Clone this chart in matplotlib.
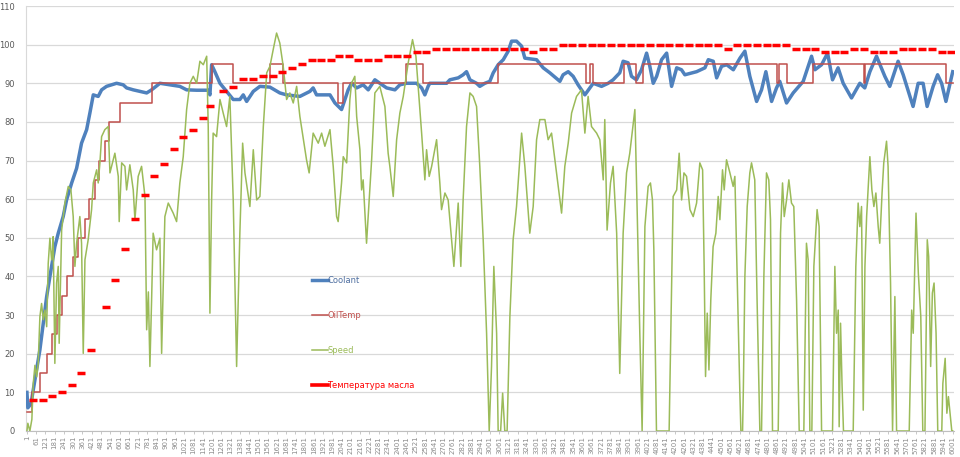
import matplotlib
matplotlib.use("Agg")
import matplotlib.pyplot as plt
from matplotlib.lines import Line2D

# ---------------- data (sample index, value) ----------------
coolant_idx = [1, 7, 27, 42, 85, 107, 129, 150, 182, 204, 236, 258, 291, 323, 355, 388, 409, 431, 463, 485,
               517, 582, 625, 647, 690, 733, 777, 809, 863, 928, 992, 1036, 1101, 1176, 1187, 1198, 1219, 1252,
               1295, 1338, 1381, 1403, 1425, 1468, 1511, 1576, 1640, 1684, 1770, 1835, 1856, 1878, 1965, 1997,
               2040, 2062, 2083, 2105, 2138, 2180, 2213, 2256, 2288, 2332, 2386, 2418, 2461, 2526, 2559, 2580,
               2601, 2612, 2721, 2742, 2796, 2828, 2850, 2872, 2915, 2936, 2969, 3001, 3023, 3055, 3088, 3120,
               3142, 3174, 3207, 3228, 3304, 3347, 3390, 3455, 3476, 3509, 3541, 3573, 3617, 3649, 3671, 3725,
               3768, 3800, 3843, 3865, 3897, 3919, 3951, 3984, 4017, 4038, 4060, 4082, 4114, 4147, 4179, 4212,
               4243, 4265, 4341, 4395, 4417, 4449, 4471, 4503, 4536, 4579, 4622, 4654, 4686, 4730, 4762, 4790,
               4827, 4859, 4880, 4924, 4967, 5032, 5086, 5108, 5151, 5190, 5222, 5258, 5291, 5345, 5399, 5431,
               5464, 5507, 5561, 5593, 5647, 5680, 5744, 5777, 5809, 5835, 5874, 5903, 5929, 5957, 6001]
coolant_val = [10, 6, 7, 10.6, 21, 28, 34.8, 40, 47.7, 51.2, 55.5, 59.8, 64.2, 68, 74.5, 78, 82.3, 87, 86.6, 88.3,
               89.2, 90, 89.6, 88.8, 88.3, 87.9, 87.5, 88.3, 90, 89.6, 89.2, 88.3, 88.2, 88.2, 87, 94.8, 93, 90,
               87.9, 85.8, 85.8, 87, 85.3, 87.9, 89.2, 89, 87.5, 87, 86.6, 87.9, 88.8, 87, 87, 84.9,
               83.2, 85.8, 88.3, 90, 88.8, 89.6, 88.3, 90.9, 90, 88.8, 88.3, 89.6, 90, 90, 88.8, 87,
               89.2, 90, 90, 90.9, 91.4, 92.2, 93, 90.9, 90, 89.2, 90, 90.5, 92.7, 94.8, 96.1, 98.3,
               100.9, 100.9, 99.6, 96.5, 96.1, 94, 92.7, 90.5, 92.2, 93, 91.8, 89.6, 87, 88.8, 90, 89.2,
               90, 90.9, 92.7, 95.7, 95.3, 91.8, 90.9, 93.5, 97.8, 94.4, 90, 91.8, 96.1, 97.8, 89.2, 94,
               93.5, 92.2, 93, 94, 96.1, 95.7, 91.4, 94.4, 94.8, 93.5, 96.5, 98.3, 91.8, 85.3, 88.3, 93,
               85.3, 88.8, 90.5, 84.9, 87.5, 90.5, 97, 93.5, 94.8, 97.8, 90.9, 94, 90, 86.2, 90, 88.8,
               93, 97, 91.8, 89.2, 95.7, 92.2, 84, 90, 90, 84, 89.2, 92.2, 90, 85.3, 93]

oil_idx = [1, 33, 85, 129, 161, 194, 226, 258, 297, 333, 377, 405, 442, 470, 507, 536, 604, 809, 1198, 1338,
           1576, 1662, 2017, 2049, 2458, 2566, 3056, 3623, 3650, 3672, 3871, 3949, 3996, 4861, 4878, 4929,
           5094, 5427, 5433, 5958, 6001]
oil_val = [5, 10, 15, 20, 25, 30, 35, 40, 45, 50, 55, 60, 65, 70, 75, 80, 85, 90, 95, 90,
           95, 90, 85, 90, 95, 90, 95, 90, 95, 90, 95, 90, 95, 90, 95, 90,
           95, 90, 95, 90, 90]

speed_idx = [1, 7, 20, 33, 42, 53, 64, 74, 85, 96, 107, 118, 129, 139, 150, 161, 168, 171, 182, 193, 204, 210,
             226, 247, 269, 286, 301, 312, 323, 344, 355, 366, 377, 398, 420, 431, 453, 463, 474, 485, 506, 528,
             539, 571, 593, 599, 615, 636, 647, 668, 690, 701, 722, 744, 766, 777, 788, 798, 809, 819, 841, 863,
             874, 895, 917, 949, 971, 992, 1014, 1036, 1057, 1079, 1101, 1122, 1144, 1166, 1176, 1187, 1198,
             1208, 1230, 1252, 1273, 1295, 1316, 1338, 1360, 1381, 1399, 1414, 1446, 1468, 1490, 1511, 1533,
             1555, 1576, 1597, 1619, 1640, 1662, 1684, 1705, 1727, 1749, 1770, 1813, 1830, 1856, 1889, 1911,
             1932, 1965, 1986, 2008, 2018, 2040, 2051, 2073, 2094, 2105, 2126, 2138, 2159, 2170, 2180, 2202,
             2235, 2256, 2288, 2321, 2342, 2353, 2375, 2397, 2418, 2440, 2472, 2500, 2522, 2559, 2580, 2591,
             2608, 2624, 2656, 2677, 2688, 2710, 2731, 2768, 2796, 2813, 2828, 2850, 2872, 2893, 2915, 2936,
             2958, 2980, 2997, 3012, 3027, 3045, 3055, 3071, 3084, 3098, 3113, 3131, 3152, 3174, 3207, 3228,
             3260, 3282, 3304, 3325, 3358, 3379, 3401, 3433, 3466, 3487, 3509, 3531, 3563, 3595, 3617, 3638,
             3660, 3693, 3714, 3736, 3746, 3761, 3783, 3800, 3823, 3843, 3865, 3887, 3908, 3941, 3957, 3973,
             3988, 4006, 4027, 4042, 4055, 4064, 4081, 4163, 4179, 4189, 4212, 4228, 4244, 4259, 4276, 4298,
             4319, 4341, 4362, 4380, 4390, 4399, 4410, 4421, 4433, 4448, 4466, 4481, 4492, 4509, 4520, 4535,
             4557, 4578, 4589, 4604, 4621, 4628, 4639, 4644, 4654, 4669, 4686, 4697, 4718, 4733, 4751, 4762,
             4777, 4794, 4809, 4820, 4833, 4870, 4885, 4898, 4909, 4924, 4939, 4956, 4971, 4989, 5006, 5036,
             5053, 5064, 5075, 5088, 5101, 5122, 5135, 5151, 5222, 5237, 5248, 5259, 5265, 5274, 5284, 5293,
             5356, 5373, 5388, 5399, 5410, 5421, 5432, 5443, 5464, 5477, 5490, 5503, 5518, 5528, 5543, 5554,
             5572, 5582, 5598, 5611, 5626, 5637, 5719, 5735, 5745, 5763, 5778, 5794, 5807, 5821, 5836, 5845,
             5858, 5869, 5880, 5893, 5904, 5930, 5937, 5952, 5963, 5973, 5995, 6001]
speed_val = [0, 2, 0, 3, 12.3, 17, 14, 17.5, 29.6, 33, 28.8, 31.3, 27, 43.4, 49.9, 44.3, 46.9, 50.3, 17.5, 38.3, 42.6, 22.7,
             52, 59, 63.3, 62.4, 55.5, 42.6, 48.6, 55.5, 48.6, 20.1, 44.3, 49.5, 57.3, 64.2, 67.6, 64.2, 69.4, 76.2, 78, 78.8,
             66.8, 71.9, 65.9, 54.2, 69.4, 68.5, 62.4, 68.9, 62.4, 54.7, 65.9, 68.5, 60.7, 26.2, 36, 16.7, 33.9, 51.2, 46.9, 49.9,
             20.1, 55.5, 59, 56.4, 54.2, 64.2, 71, 83.2, 90, 91.8, 90, 95.7, 94.8, 97, 78.8, 30.5, 59.8,
             77.1, 76.2, 85.8, 82.3, 78.8, 86.6, 59.8, 16.7, 51.2, 74.5, 66.8, 58.1, 72.8, 59.8, 60.7, 78.8,
             92.7, 94.4, 98.7, 103, 100.4, 94.4, 85.8, 87.5, 84.9, 89.2, 81.4, 70.2, 66.8, 77.1, 74.5, 77.1,
             73.7, 78, 68.5, 55.5, 54.2, 64.2, 71, 69.4, 85.8, 90, 91.8, 81.4, 72.8, 62.4, 65, 48.6,
             70.2, 87.5, 89.2, 84, 71.9, 68.5, 60.7, 75.4, 82.3, 86.6, 95.3, 101.3, 97, 77.1, 65, 72.8,
             65.9, 68.5, 75.4, 64.2, 57.3, 61.6, 59.8, 42.6, 59, 42.6, 59.8, 78.8, 87.5, 86.6, 84, 68.5,
             49.5, 25.3, 0, 16.7, 42.6, 25.3, 0, 0, 9.8, 0, 0, 29.6, 49.5, 58.1, 77.1, 68.5,
             51.2, 58.1, 75.4, 80.6, 80.6, 75.4, 77.1, 66.8, 56.4, 68.5, 74.5, 82.3, 86.6, 88.3, 77.1, 86.6,
             78.8, 77.1, 75.4, 65, 80.6, 52, 64.2, 68.5, 51.2, 14.9, 51.2, 66.8, 71.9, 83.2, 55, 25.3,
             0, 52.9, 63.3, 64.2, 59.8, 46.9, 0, 0, 38.3, 60.7, 62.4, 71.9, 59.8, 66.8, 65.9, 57.3,
             55.5, 59, 69.4, 67.6, 42.6, 14.1, 30.5, 15.8, 33.9, 47.7, 51.2, 60.7, 54.7, 67.6, 62.4, 70.2,
             66.8, 63.3, 65.9, 40, 10.6, 0, 0, 10.6, 40, 58.1, 66.8, 69.4, 65, 33.9, 0, 0,
             40, 66.8, 65, 54.7, 0, 0, 51.2, 64.2, 55.5, 59.8, 65, 59, 58.1, 33.9, 0, 0,
             48.6, 44.3, 0, 0, 42.6, 57.3, 52.9, 0, 0, 42.6, 25.3, 31.3, 1.1, 27.9, 11.5, 0,
             0, 42.6, 59, 52.9, 58.1, 5.4, 42.6, 55.5, 71, 62.4, 58.1, 61.6, 52.9, 48.6, 61.6, 69.4,
             75, 68.5, 38.3, 0, 34.8, 0, 0, 31.3, 25.3, 56.4, 40.9, 29.6, 0, 0, 49.5, 45.2,
             16.7, 35.7, 38.3, 25.3, 0, 0, 12.3, 18.8, 4.6, 8.9, 0, 0]

temp_idx = [38, 103, 165, 228, 291, 351, 414, 511, 573, 638, 701, 766, 826, 889, 952, 1014, 1077, 1142, 1187,
            1271, 1336, 1401, 1466, 1528, 1593, 1653, 1718, 1783, 1846, 1908, 1971,
            2023, 2086, 2149, 2212, 2275, 2338, 2401, 2464, 2527, 2590, 2653, 2716, 2779, 2842, 2905, 2968,
            3031, 3094, 3157, 3220, 3283, 3346, 3409, 3472, 3535, 3598, 3661, 3724, 3787, 3850, 3913, 3976,
            4039, 4102, 4165, 4228, 4291, 4354, 4417, 4480, 4543, 4606, 4669, 4732, 4795, 4858, 4921, 4984,
            5047, 5110, 5173, 5236, 5299, 5362, 5425, 5488, 5551, 5614, 5677, 5740, 5803, 5866, 5929, 5992]
temp_val = [8, 8, 9, 10, 12, 15, 21, 32, 39, 47, 55, 61, 66, 69, 73, 76, 78, 81, 84,
            88, 89, 91, 91, 92, 92, 93, 94, 95, 96, 96, 96,
            97, 97, 96, 96, 96, 97, 97, 97, 98, 98, 99, 99, 99, 99, 99, 99,
            99, 99, 99, 99, 98, 99, 99, 100, 100, 100, 100, 100, 100, 100, 100, 100,
            100, 100, 100, 100, 100, 100, 100, 100, 99, 100, 100, 100, 100, 100, 100,
            99, 99, 99, 98, 98, 98, 99, 99, 98, 98, 98, 99, 99, 99, 99, 98, 98]

tick_positions = list(range(1, 6002, 60))
tick_labels = [str(t) for t in tick_positions]
y_ticks = [0, 10, 20, 30, 40, 50, 60, 70, 80, 90, 100, 110]

series_names = ["Coolant", "OilTemp", "Speed", "Температура масла"]
c_cool = "#4F81BD"
c_oil = "#C0504D"
c_speed = "#9BBB59"
c_temp = "#FF0000"

# ---------------- figure ----------------
plt.rcParams['font.family'] = ['DejaVu Sans']
fig = plt.figure(figsize=(9.6, 4.57), dpi=100)
ax = fig.add_axes([26 / 960, 26 / 457, 927.5 / 960, 425 / 457])

ax.plot(coolant_idx, coolant_val, color=c_cool, lw=2.5, solid_joinstyle='round', zorder=3)
ax.plot(oil_idx, oil_val, color=c_oil, lw=1.1, drawstyle='steps-post', zorder=4)
ax.plot(speed_idx, speed_val, color=c_speed, lw=1.1, zorder=5)
ax.plot(temp_idx, temp_val, linestyle='none', marker='_', markersize=6.3, mew=2.5,
        color=c_temp, zorder=6)

ax.set_xlim(-5, 6006)
ax.set_ylim(0, 110)
ax.set_yticks(y_ticks)
ax.set_yticklabels([str(v) for v in y_ticks])
ax.set_xticks(tick_positions)
ax.set_xticklabels(tick_labels, rotation=90)
ax.grid(axis='y', color='#D9D9D9', lw=0.9)
ax.set_axisbelow(True)
for s in ['top', 'right']:
    ax.spines[s].set_visible(False)
ax.spines['left'].set_color('#D9D9D9')
ax.spines['bottom'].set_color('#BFBFBF')
ax.tick_params(axis='y', length=0, pad=8, labelsize=6, labelcolor='#595959')
ax.tick_params(axis='x', length=2, width=0.6, color='#BFBFBF', pad=1.5, labelsize=5,
               labelcolor='#8C8C8C')

handles = [Line2D([], [], color=c_cool, lw=2.5),
           Line2D([], [], color=c_oil, lw=1.1),
           Line2D([], [], color=c_speed, lw=1.1),
           Line2D([], [], color=c_temp, lw=2.6)]
leg = ax.legend(handles, series_names, loc='upper left', bbox_to_anchor=(0.308, 0.365),
                frameon=False, fontsize=6, labelspacing=3.12, handlelength=1.9,
                handletextpad=0.0, borderpad=0, borderaxespad=0)
for txt, col in zip(leg.get_texts(), ['#4F6FA0', c_oil, c_speed, c_temp]):
    txt.set_color(col)

fig.savefig("out.png", dpi=100)
